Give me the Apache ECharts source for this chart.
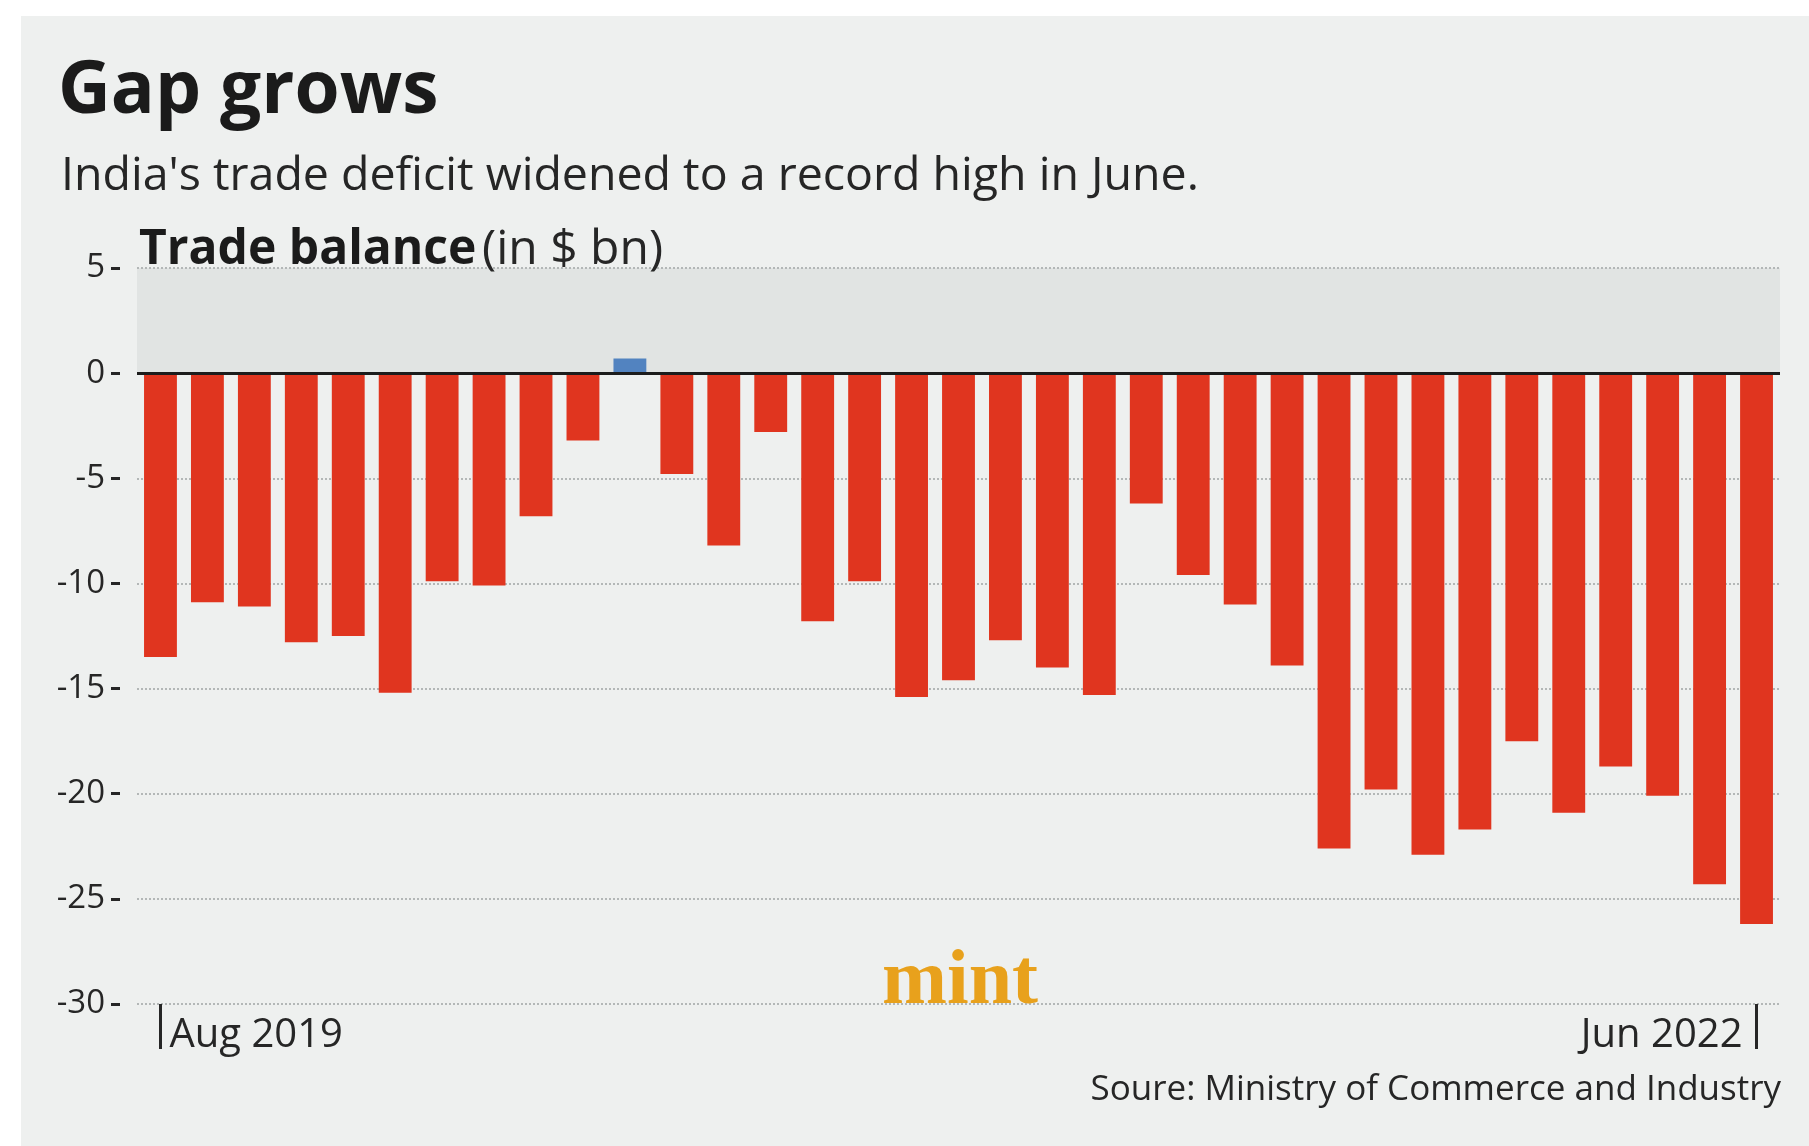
<!DOCTYPE html>
<html>
<head>
<meta charset="utf-8">
<script src="https://cdn.jsdelivr.net/npm/echarts@6/dist/echarts.min.js"></script>
<style>
html,body{margin:0;padding:0;background:#ffffff;}
#wrap{position:relative;width:1809px;height:1146px;background:#ffffff;overflow:hidden;}
#card{position:absolute;left:21px;top:16px;right:0;bottom:0;background:#eef0ef;}
#chart{position:absolute;left:0;top:0;width:1809px;height:1146px;}
</style>
</head>
<body>
<div id="wrap"><div id="card"></div><div id="chart"></div></div>
<script>
// ---- data ----
const categories = [
  'Aug 2019','Sep 2019','Oct 2019','Nov 2019','Dec 2019',
  'Jan 2020','Feb 2020','Mar 2020','Apr 2020','May 2020','Jun 2020','Jul 2020','Aug 2020','Sep 2020','Oct 2020','Nov 2020','Dec 2020',
  'Jan 2021','Feb 2021','Mar 2021','Apr 2021','May 2021','Jun 2021','Jul 2021','Aug 2021','Sep 2021','Oct 2021','Nov 2021','Dec 2021',
  'Jan 2022','Feb 2022','Mar 2022','Apr 2022','May 2022','Jun 2022'
];
const tradeBalance = [
  -13.5, -10.9, -11.1, -12.8, -12.5,
  -15.2, -9.9, -10.1, -6.8, -3.2, 0.7, -4.8, -8.2, -2.8, -11.8, -9.9, -15.4,
  -14.6, -12.7, -14.0, -15.3, -6.2, -9.6, -11.0, -13.9, -22.6, -19.8, -22.9, -21.7,
  -17.5, -20.9, -18.7, -20.1, -24.3, -26.2
];
const yMin = -30, yMax = 5, yStep = 5;

const RED = '#e0351f';
const BLUE = '#5283c0';
const TEXT = '#262626';

const chart = echarts.init(document.getElementById('chart'), null, {renderer: 'canvas'});
const last = categories.length - 1;
// show only first and last category: every (last)th category starting at 0
const xInterval = last - 1;

const xData = categories.map((c, i) => {
  if (i === 0) return {value: c, textStyle: {align: 'left', padding: [0, 0, 0, 9]}};
  if (i === last) return {value: c, textStyle: {align: 'right', padding: [0, 14, 0, 0]}};
  return c;
});

const nBands = (yMax - yMin) / yStep;
const bandColors = [];
for (let k = 0; k < nBands; k++) bandColors.push(k === nBands - 1 ? '#e1e4e3' : 'rgba(0,0,0,0)');

function txt(x, y, text, size, weight, color, align, family) {
  return {
    type: 'text', x: x, y: y, silent: true, z: 100,
    style: {
      text: text, fill: color,
      font: weight + ' ' + size + 'px ' + (family || '"Open Sans"'),
      align: align, textAlign: align,
      verticalAlign: 'middle', textVerticalAlign: 'middle'
    }
  };
}

const option = {
  animation: false,
  backgroundColor: 'transparent',
  grid: {left: 137, right: 29, top: 268, bottom: 142, containLabel: false},
  xAxis: {
    type: 'category',
    position: 'bottom',
    data: xData,
    axisLine: {show: false, onZero: false},
    axisTick: {
      show: true, alignWithLabel: true, length: 45,
      interval: xInterval,
      lineStyle: {color: TEXT, width: 3}
    },
    axisLabel: {
      interval: xInterval,
      margin: 12, fontFamily: 'Open Sans', fontSize: 40, lineHeight: 40,
      color: TEXT, hideOverlap: false
    },
    splitLine: {show: false}
  },
  yAxis: {
    type: 'value', min: yMin, max: yMax, interval: yStep,
    offset: 17,
    axisLine: {show: false},
    axisTick: {show: true, length: 9, lineStyle: {color: TEXT, width: 3}},
    axisLabel: {margin: 15, fontFamily: 'Open Sans', fontSize: 33, color: TEXT},
    splitLine: {show: true, lineStyle: {type: [2, 2], color: '#b3b7b7', width: 2}},
    splitArea: {show: true, areaStyle: {color: bandColors}}
  },
  series: [{
    type: 'bar',
    data: tradeBalance,
    barCategoryGap: '30%',
    itemStyle: {color: (p) => (p.value >= 0 ? BLUE : RED)},
    markLine: {
      silent: true, symbol: 'none', label: {show: false},
      lineStyle: {color: '#1c1c1c', width: 3, type: 'solid'},
      data: [{yAxis: 0}]
    }
  }],
  graphic: [
    txt(58, 92, 'Gap grows', 73, 'bold', '#1b1b1b', 'left'),
    txt(61, 177, "India's trade deficit widened to a record high in June.", 46.5, 'normal', TEXT, 'left'),
    txt(139, 250, 'Trade balance', 48, 'bold', '#1b1b1b', 'left'),
    txt(482, 250, '(in $ bn)', 48, 'normal', TEXT, 'left'),
    txt(1781, 1090, 'Soure: Ministry of Commerce and Industry', 35, 'normal', TEXT, 'right'),
    txt(960, 983, 'mint', 78, 'bold', '#e8a11c', 'center', '"Liberation Serif"')
  ]
};
chart.setOption(option);
</script>
</body>
</html>
